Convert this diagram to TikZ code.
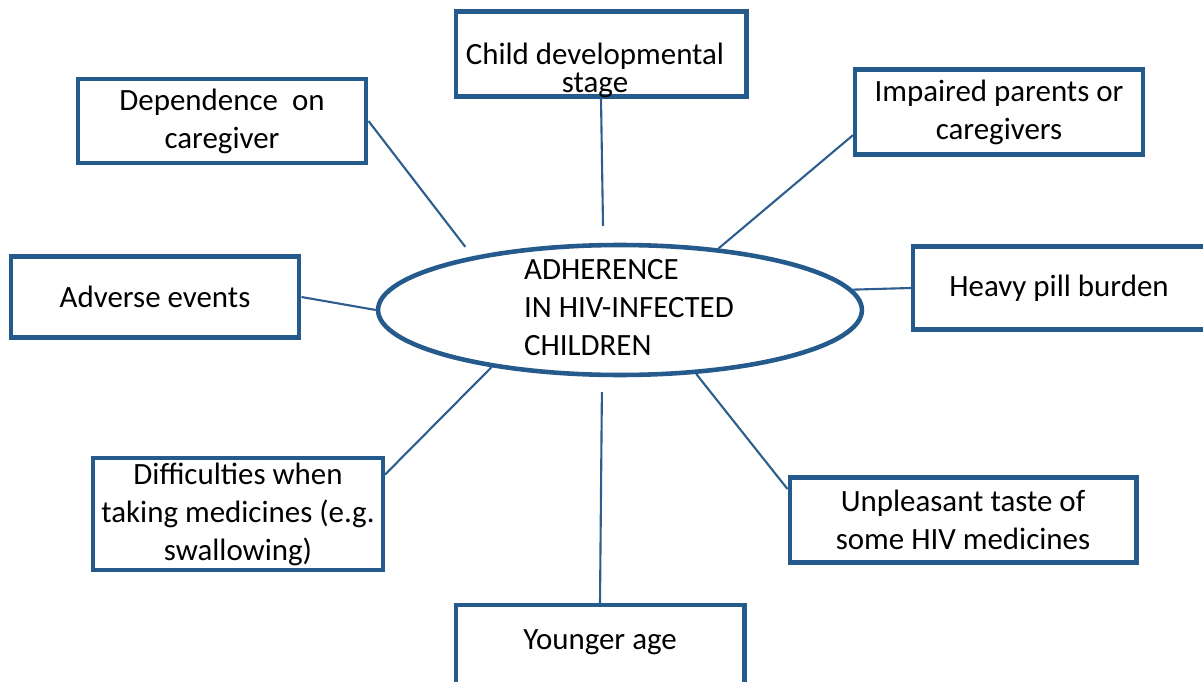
\documentclass[tikz,border=0pt]{standalone}
\usepackage{fontspec}
\setmainfont{Carlito}
\usetikzlibrary{shapes.geometric}

\definecolor{boxblue}{HTML}{245A8C}
\definecolor{linkblue}{HTML}{2D5E8E}

\begin{document}
\begin{tikzpicture}
  [x=0.02cm,y=-0.02cm,
   every node/.style={font=\fontsize{17.6pt}{21.6pt}\selectfont,align=center},
   factor/.style={draw=boxblue,line width=2.3pt,fill=white,inner sep=2pt},
   hubshape/.style={ellipse,draw=boxblue,line width=2.6pt,fill=white,
     minimum width=9.68cm,minimum height=2.6cm,inner sep=0pt},
   link/.style={draw=linkblue,line width=1.2pt}]
  \useasboundingbox (0,0) rectangle (1203,682);

  \node[hubshape] (hub) at (620,310) {};
  \node[align=left] (hubtext) at (629,308) {ADHERENCE\\IN HIV-INFECTED\\CHILDREN};

  \node[factor,minimum width=5.82cm,minimum height=1.70cm] (child) at (601,54) {};
  \node[font=\fontsize{17.6pt}{15.9pt}\selectfont] (childtext) at (595,70) {Child developmental\\stage};
  \node[factor,minimum width=5.78cm,minimum height=1.68cm] (dep) at (222,121) {Dependence\ \ on\\caregiver};
  \node[factor,minimum width=5.76cm,minimum height=1.70cm] (imp) at (999,112) {Impaired parents or\\caregivers};
  \node[factor,minimum width=5.78cm,minimum height=1.62cm] (adv) at (155,297) {Adverse events};
  \node[factor,minimum width=5.84cm,minimum height=1.66cm] (heavy) at (1059,288) {Heavy pill burden};
  \node[factor,minimum width=5.80cm,minimum height=2.24cm] (diff) at (238,514) {Difficulties when\\taking medicines (e.g.\\swallowing)};
  \node[factor,minimum width=6.94cm,minimum height=1.70cm] (unp) at (963,520) {Unpleasant taste of\\some HIV medicines};
  \node[factor,minimum width=5.78cm,anchor=north,inner ysep=0pt,
    text height=0.88cm,text depth=1.1cm] (young) at (600,603) {Younger age};

  \draw[link,shorten >=0.34cm] (child.south) -- (hub.104);
  \draw[link,shorten >=0.24cm] (dep.east) -- (hub.160);
  \draw[link] (imp.189) -- (hub.32);
  \draw[link] (adv.east) -- (hub.west);
  \draw[link] (heavy.west) -- (hub.5);
  \draw[link] (diff.15) -- (hub.204);
  \draw[link] (unp.170) -- (hub.320);
  \draw[link,shorten >=0.3cm] (young.north) -- (hub.255);
\end{tikzpicture}
\end{document}
